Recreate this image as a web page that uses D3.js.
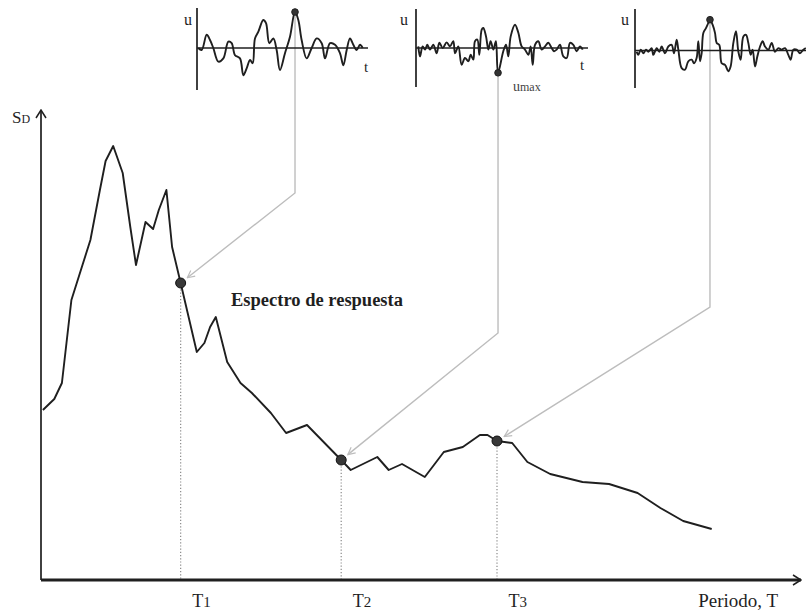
<!DOCTYPE html>
<html>
<head>
<meta charset="utf-8">
<script src="https://cdn.jsdelivr.net/npm/d3@7"></script>
<style>
  html, body { margin: 0; background: #fff; }
  svg { display: block; }
</style>
</head>
<body>
<svg id="chart" width="806" height="613"></svg>
<script>
// Response spectrum: period T (s) and spectral displacement SD
const periodT = [0.01, 0.07, 0.11, 0.16, 0.21, 0.26, 0.31, 0.34, 0.38, 0.43,
                 0.47, 0.50, 0.55, 0.59, 0.62, 0.66, 0.69, 0.735, 0.82, 0.86,
                 0.89, 0.92, 0.98, 1.05, 1.11, 1.21, 1.29, 1.40, 1.58, 1.63,
                 1.77, 1.83, 1.90, 2.02, 2.12, 2.22, 2.31, 2.35, 2.40, 2.48,
                 2.56, 2.68, 2.85, 2.99, 3.14, 3.26, 3.38, 3.53];
const sdValues = [17.0, 18.1, 19.7, 28.0, 31.0, 34.0, 39.0, 41.9, 43.4, 40.7,
                  35.3, 31.5, 35.8, 35.1, 37.0, 39.0, 33.3, 29.7, 22.8, 23.7,
                  25.3, 26.3, 21.8, 19.7, 18.7, 16.7, 14.7, 15.5, 12.0, 11.0,
                  12.3, 11.0, 11.6, 10.3, 12.8, 13.3, 14.5, 14.5, 13.9, 13.7,
                  11.8, 10.6, 9.8, 9.6, 8.7, 7.2, 5.9, 5.1];

// Periods of the three oscillators whose responses are shown above
const markedPeriods = [0.735, 1.58, 2.40];
const markedLabels = ["1", "2", "3"];

// Displacement histories u(t) of the three oscillators (t in s, u normalised)
const rec1t = [0.15, 0.55, 1.14, 1.53, 1.92, 2.51, 3.10, 3.69, 4.08, 4.47,
               5.06, 5.45, 5.84, 6.24, 6.55, 6.82, 7.22, 7.80, 8.12, 8.51,
               8.98, 9.37, 9.76, 10.35, 10.94, 11.53, 11.92, 12.31, 12.90, 13.49,
               14.08, 14.67, 15.06, 15.65, 16.24, 16.82, 17.22, 17.61, 18.00, 18.39,
               18.78, 19.18, 19.49];
const rec1u = [0.00, -0.05, 0.33, 0.20, 0.00, -0.34, -0.26, 0.16, 0.12, -0.18,
               -0.26, -0.68, -0.51, -0.30, -0.38, 0.24, 0.41, 0.70, 0.62, 0.12,
               0.24, -0.05, -0.55, -0.13, 0.28, 0.90, 0.70, 0.20, -0.26, 0.00,
               0.24, 0.12, -0.26, 0.12, 0.08, -0.13, -0.43, -0.05, 0.24, 0.08,
               -0.05, 0.08, 0.00];

const rec2t = [0.27, 0.47, 0.78, 1.06, 1.33, 1.65, 2.04, 2.43, 2.75, 3.14,
               3.61, 4.00, 4.39, 4.59, 4.98, 5.37, 5.76, 6.16, 6.43, 6.75,
               6.94, 7.22, 7.45, 7.73, 7.92, 8.24, 8.51, 8.78, 9.10, 9.40,
               9.65, 10.27, 10.59, 10.86, 11.14, 11.65, 12.04, 12.43, 12.82, 13.22,
               13.49, 13.73, 14.00, 14.39, 14.78, 15.18, 15.57, 15.96, 16.24, 16.55,
               16.94, 17.33, 17.73, 18.12, 18.51, 18.90, 19.29, 19.61];
const rec2u = [0.04, -0.21, 0.04, -0.04, 0.08, -0.04, 0.08, -0.13, 0.13, 0.00,
               0.14, 0.04, 0.17, -0.13, 0.04, -0.42, -0.25, -0.33, -0.17, -0.29,
               0.17, 0.21, -0.17, 0.46, 0.50, 0.29, -0.04, 0.17, -0.04, 0.17,
               -0.62, -0.08, 0.08, -0.21, 0.29, 0.58, 0.38, 0.04, -0.04, -0.17,
               0.04, -0.42, 0.08, 0.17, -0.04, 0.04, 0.13, 0.00, -0.08, -0.04,
               0.08, -0.21, -0.25, 0.13, 0.08, -0.08, 0.04, -0.04];

const rec3t = [0.20, 0.39, 0.67, 0.98, 1.29, 1.57, 1.96, 2.16, 2.55, 2.86,
               3.14, 3.53, 3.92, 4.31, 4.59, 4.90, 5.10, 5.49, 5.88, 6.27,
               6.67, 6.94, 7.25, 7.45, 7.65, 7.84, 8.04, 8.35, 8.63, 8.82,
               9.14, 9.41, 9.61, 9.92, 10.20, 10.59, 10.98, 11.25, 11.57, 11.88,
               12.16, 12.43, 12.75, 13.06, 13.33, 13.61, 13.84, 14.12, 14.39, 14.71,
               15.02, 15.29, 15.69, 16.08, 16.47, 16.86, 17.25, 17.65, 18.04, 18.31,
               18.63, 19.02, 19.41, 19.80, 20.10];
const rec3u = [-0.03, -0.11, 0.02, -0.07, 0.02, -0.03, 0.06, -0.11, 0.06, -0.03,
               0.10, -0.07, 0.10, 0.14, -0.07, 0.27, 0.02, -0.44, -0.48, -0.27,
               -0.23, -0.32, -0.19, 0.23, -0.27, -0.07, 0.44, 0.56, 0.69, 0.77,
               0.64, 0.44, 0.19, 0.14, -0.32, -0.36, -0.52, -0.40, 0.19, 0.48,
               -0.03, -0.23, 0.35, 0.39, 0.19, -0.11, 0.02, -0.40, -0.15, 0.10,
               0.23, 0.10, 0.02, 0.19, -0.03, 0.06, 0.02, 0.06, -0.11, -0.23,
               0.02, 0.02, -0.07, 0.02, 0.06];

// ---------------------------------------------------------------------------
const svg = d3.select("#chart");
const SERIF = "'Liberation Serif', 'Times New Roman', serif";
const INK = "#1f1f1f";
const LEADER = "#bdbdbd";

// markers
const defs = svg.append("defs");
defs.append("marker")
  .attr("id", "axisArrow").attr("markerUnits", "userSpaceOnUse")
  .attr("viewBox", "0 0 10 12").attr("refX", 9).attr("refY", 6)
  .attr("markerWidth", 10).attr("markerHeight", 12).attr("orient", "auto")
  .append("path").attr("d", "M1,1 L9,6 L1,11")
  .attr("fill", "none").attr("stroke", INK).attr("stroke-width", 1.5);
defs.append("marker")
  .attr("id", "leaderArrow").attr("markerUnits", "userSpaceOnUse")
  .attr("viewBox", "0 0 10 10").attr("refX", 9).attr("refY", 5)
  .attr("markerWidth", 9).attr("markerHeight", 9).attr("orient", "auto")
  .append("path").attr("d", "M1,1 L9,5 L1,9")
  .attr("fill", "none").attr("stroke", LEADER).attr("stroke-width", 1.3);

// main scales
const x = d3.scaleLinear().domain([0, 4]).range([41, 801]);
const y = d3.scaleLinear().domain([0, 47]).range([580, 110]);

const spectrum = periodT.map((t, i) => ({ t, sd: sdValues[i] }));
const sdAt = t => spectrum.find(p => p.t === t).sd;

// --- inset records -------------------------------------------------------
const insets = [
  { t: rec1t, u: rec1u, x0: 197, zero: 48,   top: 8,  bottom: 90, end: 368, uLabel: [184, 25], tLabel: [364, 72], bend: 193, target: 0 },
  { t: rec2t, u: rec2u, x0: 416, zero: 48,   top: 9,  bottom: 87, end: 588, uLabel: [400, 25], tLabel: [580, 70], bend: 333, target: 1, maxLabel: true },
  { t: rec3t, u: rec3u, x0: 635, zero: 50.5, top: 9,  bottom: 88, end: 806, uLabel: [621, 25], tLabel: null, bend: 307, target: 2 }
];

// leader lines first, so the traces sit on top of them
insets.forEach(ins => {
  ins.tx = d3.scaleLinear().domain([0, 20]).range([ins.x0, ins.x0 + 170]);
  ins.uy = d3.scaleLinear().domain([-1, 1]).range([ins.zero + 40, ins.zero - 40]);
  ins.peak = d3.maxIndex(ins.u, v => Math.abs(v));
  const px = ins.tx(ins.t[ins.peak]);
  const py = ins.uy(ins.u[ins.peak]);
  const T = markedPeriods[ins.target];
  const dx = x(T), dy = y(sdAt(T));
  const vx = px - dx, vy = ins.bend - dy, len = Math.hypot(vx, vy);
  const tipX = dx + vx / len * 8.5, tipY = dy + vy / len * 8.5;
  svg.append("path")
    .attr("d", `M${px},${py} L${px},${ins.bend} L${tipX},${tipY}`)
    .attr("fill", "none").attr("stroke", LEADER).attr("stroke-width", 1.4)
    .attr("marker-end", "url(#leaderArrow)");
});

// dotted drop lines from the marked points to the period axis
svg.append("g").selectAll("line").data(markedPeriods).join("line")
  .attr("x1", d => x(d)).attr("x2", d => x(d))
  .attr("y1", d => y(sdAt(d))).attr("y2", y(0))
  .attr("stroke", "#8a8a8a").attr("stroke-width", 1.2)
  .attr("stroke-dasharray", "1.2,2");

// insets
insets.forEach(ins => {
  const g = svg.append("g");
  g.append("line").attr("x1", ins.x0).attr("x2", ins.x0)
    .attr("y1", ins.top).attr("y2", ins.bottom)
    .attr("stroke", INK).attr("stroke-width", 1.7);
  g.append("line").attr("x1", ins.x0).attr("x2", ins.end)
    .attr("y1", ins.zero).attr("y2", ins.zero)
    .attr("stroke", INK).attr("stroke-width", 1.7);
  const pts = ins.t.map((t, i) => [t, ins.u[i]]);
  g.append("path").datum(pts)
    .attr("d", d3.line().x(d => ins.tx(d[0])).y(d => ins.uy(d[1])).curve(d3.curveCatmullRom.alpha(0.5)))
    .attr("fill", "none").attr("stroke", INK).attr("stroke-width", 1.9)
    .attr("stroke-linejoin", "round");
  g.append("circle")
    .attr("cx", ins.tx(ins.t[ins.peak])).attr("cy", ins.uy(ins.u[ins.peak]))
    .attr("r", 3.3).attr("fill", "#333").attr("stroke", INK).attr("stroke-width", 1);
  g.append("text").attr("x", ins.uLabel[0]).attr("y", ins.uLabel[1])
    .attr("font-family", SERIF).attr("font-size", 16).attr("fill", INK).text("u");
  if (ins.tLabel) {
    g.append("text").attr("x", ins.tLabel[0]).attr("y", ins.tLabel[1])
      .attr("font-family", SERIF).attr("font-size", 15).attr("fill", INK).text("t");
  }
  if (ins.maxLabel) {
    const lbl = g.append("text")
      .attr("x", ins.tx(ins.t[ins.peak]) + 15).attr("y", ins.uy(ins.u[ins.peak]) + 18)
      .attr("font-family", SERIF).attr("fill", "#444");
    lbl.append("tspan").attr("font-size", 14).text("u");
    lbl.append("tspan").attr("font-size", 12).text("max");
  }
});

// spectrum curve
svg.append("path").datum(spectrum)
  .attr("d", d3.line().x(d => x(d.t)).y(d => y(d.sd)))
  .attr("fill", "none").attr("stroke", INK).attr("stroke-width", 1.9)
  .attr("stroke-linejoin", "round");

// marked points
svg.append("g").selectAll("circle").data(markedPeriods).join("circle")
  .attr("cx", d => x(d)).attr("cy", d => y(sdAt(d)))
  .attr("r", 5).attr("fill", "#383838").attr("stroke", "#111").attr("stroke-width", 1);

// axes
svg.append("line")
  .attr("x1", x(0)).attr("x2", x(0)).attr("y1", y(0)).attr("y2", y(47))
  .attr("stroke", INK).attr("stroke-width", 1.7)
  .attr("marker-end", "url(#axisArrow)");
svg.append("line")
  .attr("x1", x(0)).attr("x2", x(4)).attr("y1", y(0)).attr("y2", y(0))
  .attr("stroke", INK).attr("stroke-width", 2.8)
  .attr("marker-end", "url(#axisArrow)");

const xAxis = svg.append("g").attr("transform", `translate(0,${y(0)})`)
  .call(d3.axisBottom(x).tickValues(markedPeriods).tickSize(0).tickPadding(14));
xAxis.select(".domain").remove();
xAxis.selectAll(".tick text")
  .attr("font-family", SERIF).attr("font-size", 18).attr("fill", INK)
  .attr("text-anchor", "start").attr("dx", 11)
  .each(function (d, i) {
    const t = d3.select(this).text(null);
    t.append("tspan").text("T");
    t.append("tspan").attr("font-size", 15).text(markedLabels[i]);
  });

// axis titles
svg.append("text").attr("x", 778).attr("y", 607).attr("text-anchor", "end")
  .attr("font-family", SERIF).attr("font-size", 19).attr("fill", INK)
  .text("Periodo, T");
const sdLabel = svg.append("text").attr("x", 12).attr("y", 123)
  .attr("font-family", SERIF).attr("fill", INK);
sdLabel.append("tspan").attr("font-size", 17).text("S");
sdLabel.append("tspan").attr("font-size", 12).text("D");

// curve label
svg.append("text").attr("x", 231).attr("y", 306)
  .attr("font-family", SERIF).attr("font-size", 18.5).attr("font-weight", "bold")
  .attr("fill", INK).text("Espectro de respuesta");
</script>
</body>
</html>
